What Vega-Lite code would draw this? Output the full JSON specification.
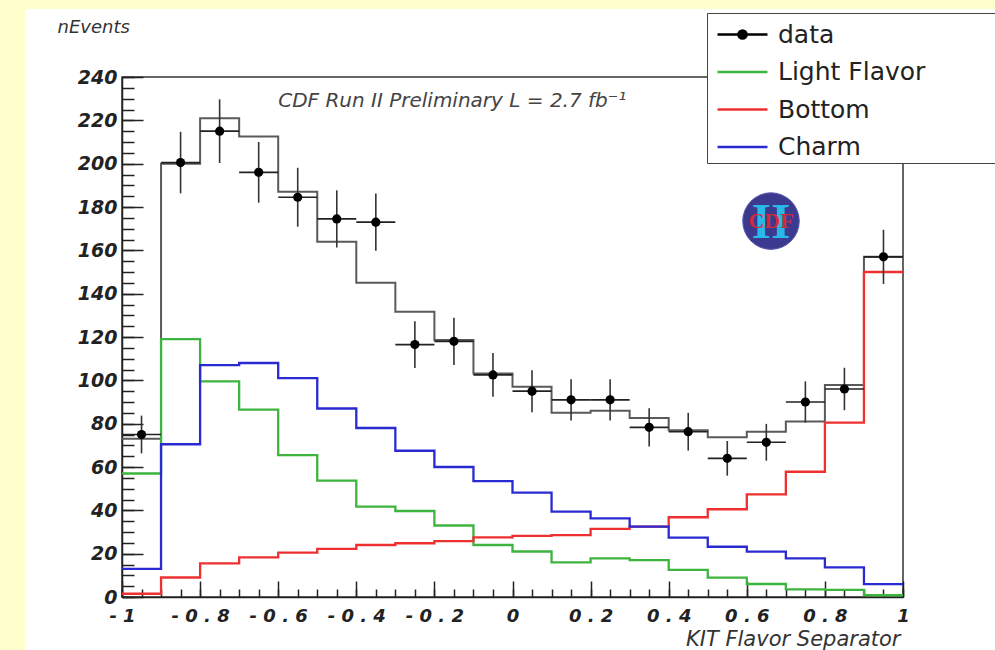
{
  "$schema": "https://vega.github.io/schema/vega-lite/v6.json",
  "autosize": {"type": "none"},
  "width": 781,
  "height": 520,
  "padding": {"left": 122, "top": 77, "right": 92, "bottom": 53},
  "background": "white",
  "config": {
    "font": "DejaVu Sans",
    "view": {"stroke": "#333", "strokeWidth": 1.5}
  },
  "resolve": {"axis": {"x": "independent", "y": "independent"}},
  "data": {
    "values": [
      {"lo": -1.0, "hi": -0.9, "x": -0.95, "data": 75, "dlo": 66.3, "dhi": 83.7, "Light Flavor": 57, "Bottom": 1.5, "Charm": 13, "tot": 73},
      {"lo": -0.9, "hi": -0.8, "x": -0.85, "data": 200.5, "dlo": 186.3, "dhi": 214.7, "Light Flavor": 119, "Bottom": 9, "Charm": 70.5, "tot": 200},
      {"lo": -0.8, "hi": -0.7, "x": -0.75, "data": 215, "dlo": 200.3, "dhi": 229.7, "Light Flavor": 99.5, "Bottom": 15.5, "Charm": 107, "tot": 221},
      {"lo": -0.7, "hi": -0.6, "x": -0.65, "data": 196, "dlo": 182, "dhi": 210, "Light Flavor": 86.5, "Bottom": 18.3, "Charm": 108, "tot": 212.5},
      {"lo": -0.6, "hi": -0.5, "x": -0.55, "data": 184.5, "dlo": 170.9, "dhi": 198.1, "Light Flavor": 65.5, "Bottom": 20.5, "Charm": 101, "tot": 187},
      {"lo": -0.5, "hi": -0.4, "x": -0.45, "data": 174.5, "dlo": 161.3, "dhi": 187.7, "Light Flavor": 53.7, "Bottom": 22.2, "Charm": 87, "tot": 164},
      {"lo": -0.4, "hi": -0.3, "x": -0.35, "data": 173, "dlo": 159.8, "dhi": 186.2, "Light Flavor": 41.7, "Bottom": 24, "Charm": 78, "tot": 145},
      {"lo": -0.3, "hi": -0.2, "x": -0.25, "data": 116.5, "dlo": 105.7, "dhi": 127.3, "Light Flavor": 39.7, "Bottom": 24.8, "Charm": 67.5, "tot": 131.7},
      {"lo": -0.2, "hi": -0.1, "x": -0.15, "data": 118, "dlo": 107.1, "dhi": 128.9, "Light Flavor": 33, "Bottom": 25.8, "Charm": 60, "tot": 118.6},
      {"lo": -0.1, "hi": 0.0, "x": -0.05, "data": 102.5, "dlo": 92.4, "dhi": 112.6, "Light Flavor": 24, "Bottom": 27.5, "Charm": 53.5, "tot": 103.2},
      {"lo": 0.0, "hi": 0.1, "x": 0.05, "data": 95, "dlo": 85.3, "dhi": 104.7, "Light Flavor": 21, "Bottom": 28.2, "Charm": 48.2, "tot": 97},
      {"lo": 0.1, "hi": 0.2, "x": 0.15, "data": 91, "dlo": 81.5, "dhi": 100.5, "Light Flavor": 16, "Bottom": 28.6, "Charm": 39.4, "tot": 85},
      {"lo": 0.2, "hi": 0.3, "x": 0.25, "data": 91, "dlo": 81.5, "dhi": 100.5, "Light Flavor": 17.8, "Bottom": 31.4, "Charm": 36.3, "tot": 86},
      {"lo": 0.3, "hi": 0.4, "x": 0.35, "data": 78.3, "dlo": 69.5, "dhi": 87.1, "Light Flavor": 17, "Bottom": 32.5, "Charm": 32.5, "tot": 82.6},
      {"lo": 0.4, "hi": 0.5, "x": 0.45, "data": 76.3, "dlo": 67.6, "dhi": 85, "Light Flavor": 12.5, "Bottom": 36.8, "Charm": 27.4, "tot": 77},
      {"lo": 0.5, "hi": 0.6, "x": 0.55, "data": 64, "dlo": 56, "dhi": 72, "Light Flavor": 8.9, "Bottom": 40.5, "Charm": 23.2, "tot": 73.7},
      {"lo": 0.6, "hi": 0.7, "x": 0.65, "data": 71.4, "dlo": 62.9, "dhi": 79.9, "Light Flavor": 6, "Bottom": 47.4, "Charm": 20.9, "tot": 76.3},
      {"lo": 0.7, "hi": 0.8, "x": 0.75, "data": 90, "dlo": 80.5, "dhi": 99.5, "Light Flavor": 3.5, "Bottom": 57.8, "Charm": 17.8, "tot": 81},
      {"lo": 0.8, "hi": 0.9, "x": 0.85, "data": 96, "dlo": 86.2, "dhi": 105.8, "Light Flavor": 3.3, "Bottom": 80.5, "Charm": 13.7, "tot": 97.8},
      {"lo": 0.9, "hi": 1.0, "x": 0.95, "data": 157, "dlo": 144.5, "dhi": 169.5, "Light Flavor": 0.8, "Bottom": 150, "Charm": 5.9, "tot": 157}
    ]
  },
  "layer": [
    {
      "data": {"values": [{}]},
      "mark": {"type": "rect", "color": "#ffffcc", "opacity": 1},
      "encoding": {
        "x": {"datum": -1.32, "type": "quantitative", "scale": {"domain": [-1, 1], "nice": false, "zero": false}, "axis": null},
        "x2": {"datum": -1.2484},
        "y": {"datum": -25, "type": "quantitative", "scale": {"domain": [0, 240], "nice": false}, "axis": null},
        "y2": {"datum": 276}
      }
    },
    {
      "data": {"values": [{}]},
      "mark": {"type": "rect", "color": "#ffffcc", "opacity": 1},
      "encoding": {
        "x": {"datum": -1.32, "type": "quantitative", "scale": {"domain": [-1, 1], "nice": false, "zero": false}, "axis": null},
        "x2": {"datum": 1.25},
        "y": {"datum": 271.4, "type": "quantitative", "scale": {"domain": [0, 240], "nice": false}, "axis": null},
        "y2": {"datum": 276}
      }
    },
    {
      "transform": [{"fold": ["lo", "hi"], "as": ["edge", "ex"]}],
      "mark": {"type": "line", "color": "#5a5a5a", "strokeWidth": 2},
      "encoding": {
        "x": {
          "field": "ex", "type": "quantitative",
          "scale": {"domain": [-1, 1], "nice": false, "zero": false},
          "axis": {
            "orient": "bottom",
            "values": [-1, -0.8, -0.6, -0.4, -0.2, 0, 0.2, 0.4, 0.6, 0.8, 1],
            "labelExpr": "join(split(replace(format(datum.value, '.1~f'), '\u2212', '-'), ''), ' ')",
            "labelOverlap": false,
            "labelFlush": false,
            "labelBound": false,
            "labelLimit": 0,
            "tickSize": -16,
            "labelPadding": 26,
            "tickColor": "#222", "tickWidth": 1.5,
            "domainColor": "#222", "domainWidth": 1.5,
            "grid": false,
            "labelFont": "DejaVu Sans", "labelFontSize": 18, "labelFontWeight": "bold", "labelFontStyle": "italic", "labelColor": "#222",
            "title": "KIT Flavor Separator",
            "titleFont": "DejaVu Sans", "titleFontSize": 21, "titleFontStyle": "italic", "titleFontWeight": "normal", "titleColor": "#333",
            "titleX": 778, "titleY": 42, "titleAlign": "right", "titleBaseline": "middle"
          }
        },
        "y": {
          "field": "tot", "type": "quantitative",
          "scale": {"domain": [0, 240], "nice": false},
          "axis": {
            "orient": "left",
            "values": [0, 20, 40, 60, 80, 100, 120, 140, 160, 180, 200, 220, 240],
            "format": "d",
            "labelOverlap": false,
            "labelFlush": false,
            "labelBound": false,
            "tickSize": -21,
            "labelPadding": 26,
            "tickColor": "#222", "tickWidth": 1.5,
            "domainColor": "#222", "domainWidth": 1.5,
            "grid": false,
            "labelFont": "DejaVu Sans", "labelFontSize": 19, "labelFontWeight": "bold", "labelFontStyle": "italic", "labelColor": "#222",
            "title": "nEvents",
            "titleAngle": 0,
            "titleFont": "DejaVu Sans", "titleFontSize": 18, "titleFontStyle": "italic", "titleFontWeight": "normal", "titleColor": "#333",
            "titleX": -65, "titleY": -50, "titleAlign": "left", "titleBaseline": "middle"
          }
        },
        "order": [{"field": "lo", "type": "quantitative"}, {"field": "edge", "sort": "descending"}]
      }
    },
    {
      "transform": [
        {"fold": ["Light Flavor", "Bottom", "Charm"], "as": ["key", "val"]},
        {"fold": ["lo", "hi"], "as": ["edge", "ex"]}
      ],
      "mark": {"type": "line", "strokeWidth": 2.3},
      "encoding": {
        "x": {
          "field": "ex", "type": "quantitative", "scale": {"domain": [-1, 1], "nice": false, "zero": false},
          "axis": {
            "orient": "bottom",
            "values": [-1, -0.95, -0.9, -0.85, -0.8, -0.75, -0.7, -0.65, -0.6, -0.55, -0.5, -0.45, -0.4, -0.35, -0.3, -0.25, -0.2, -0.15, -0.1, -0.05, 0, 0.05, 0.1, 0.15, 0.2, 0.25, 0.3, 0.35, 0.4, 0.45, 0.5, 0.55, 0.6, 0.65, 0.7, 0.75, 0.8, 0.85, 0.9, 0.95, 1],
            "labels": false, "domain": false, "grid": false, "title": null,
            "tickSize": -8, "tickColor": "#222", "tickWidth": 1.5
          }
        },
        "y": {
          "field": "val", "type": "quantitative", "scale": {"domain": [0, 240], "nice": false},
          "axis": {
            "orient": "left",
            "values": [0, 5, 10, 15, 20, 25, 30, 35, 40, 45, 50, 55, 60, 65, 70, 75, 80, 85, 90, 95, 100, 105, 110, 115, 120, 125, 130, 135, 140, 145, 150, 155, 160, 165, 170, 175, 180, 185, 190, 195, 200, 205, 210, 215, 220, 225, 230, 235, 240],
            "labels": false, "domain": false, "grid": false, "title": null,
            "tickSize": -12, "tickColor": "#222", "tickWidth": 1.5
          }
        },
        "color": {
          "field": "key", "type": "nominal",
          "scale": {"domain": ["data", "Light Flavor", "Bottom", "Charm"], "range": ["black", "#3db43d", "#ee3030", "#2a2ad2"]},
          "legend": {
            "orient": "none", "legendX": 585, "legendY": -64,
            "title": null,
            "fillColor": "white", "strokeColor": "#444",
            "padding": 3,
            "rowPadding": 5.5,
            "symbolType": "M-1.47,0H1.47",
            "symbolSize": 1156,
            "symbolStrokeWidth": 2.5,
            "symbolOffset": 14,
            "labelOffset": 17,
            "labelLimit": 400,
            "labelFont": "DejaVu Sans", "labelFontSize": 25, "labelColor": "#222",
            "labelExpr": "datum.label + '\u2800\u00a0\u2800\u2009\u2800'",
            "encode": {
              "symbols": {
                "update": {
                  "shape": {"signal": "datum.value === 'data' ? 'M-1.47,0H1.47M0.24,0A0.24,0.24 0 1,1 -0.24,0A0.24,0.24 0 1,1 0.24,0Z' : 'M-1.47,0H1.47'"},
                  "fill": {"signal": "datum.value === 'data' ? 'black' : 'transparent'"}
                }
              }
            }
          }
        },
        "detail": {"field": "key"},
        "order": [{"field": "lo", "type": "quantitative"}, {"field": "edge", "sort": "descending"}]
      }
    },
    {
      "mark": {"type": "rule", "color": "#333", "strokeWidth": 1.6},
      "encoding": {
        "x": {"field": "x", "type": "quantitative", "scale": {"domain": [-1, 1], "nice": false, "zero": false}, "axis": null},
        "y": {"field": "dlo", "type": "quantitative", "scale": {"domain": [0, 240], "nice": false}, "axis": null},
        "y2": {"field": "dhi"}
      }
    },
    {
      "mark": {"type": "rule", "color": "#222", "strokeWidth": 1.6},
      "encoding": {
        "x": {"field": "lo", "type": "quantitative", "scale": {"domain": [-1, 1], "nice": false, "zero": false}, "axis": null},
        "x2": {"field": "hi"},
        "y": {"field": "data", "type": "quantitative", "scale": {"domain": [0, 240], "nice": false}, "axis": null}
      }
    },
    {
      "mark": {"type": "point", "filled": true, "color": "black", "size": 85, "opacity": 1},
      "encoding": {
        "x": {"field": "x", "type": "quantitative", "scale": {"domain": [-1, 1], "nice": false, "zero": false}, "axis": null},
        "y": {"field": "data", "type": "quantitative", "scale": {"domain": [0, 240], "nice": false}, "axis": null}
      }
    },
    {
      "data": {"values": [{}]},
      "mark": {"type": "text", "text": "CDF Run II Preliminary L = 2.7 fb⁻¹", "align": "left", "baseline": "middle", "font": "DejaVu Sans", "fontSize": 20, "fontStyle": "italic", "color": "#444"},
      "encoding": {
        "x": {"datum": -0.6, "type": "quantitative", "scale": {"domain": [-1, 1], "nice": false, "zero": false}, "axis": null},
        "y": {"datum": 229, "type": "quantitative", "scale": {"domain": [0, 240], "nice": false}, "axis": null}
      }
    },
    {
      "data": {"values": [{}]},
      "mark": {"type": "point", "shape": "circle", "filled": true, "color": "#3c3a8e", "size": 3200, "opacity": 1, "stroke": "#5c5cae", "strokeWidth": 1},
      "encoding": {
        "x": {"datum": 0.662, "type": "quantitative", "scale": {"domain": [-1, 1], "nice": false, "zero": false}, "axis": null},
        "y": {"datum": 173.5, "type": "quantitative", "scale": {"domain": [0, 240], "nice": false}, "axis": null}
      }
    },
    {
      "data": {"values": [{}]},
      "mark": {"type": "text", "text": "II", "align": "center", "baseline": "middle", "font": "Liberation Serif", "fontSize": 50, "fontWeight": "bold", "color": "#2ab8ea", "dy": 2},
      "encoding": {
        "x": {"datum": 0.662, "type": "quantitative", "scale": {"domain": [-1, 1], "nice": false, "zero": false}, "axis": null},
        "y": {"datum": 173.5, "type": "quantitative", "scale": {"domain": [0, 240], "nice": false}, "axis": null}
      }
    },
    {
      "data": {"values": [{}]},
      "mark": {"type": "text", "text": "CDF", "align": "center", "baseline": "middle", "font": "Liberation Serif", "fontSize": 22, "fontWeight": "bold", "color": "#d02a3a"},
      "encoding": {
        "x": {"datum": 0.662, "type": "quantitative", "scale": {"domain": [-1, 1], "nice": false, "zero": false}, "axis": null},
        "y": {"datum": 173.5, "type": "quantitative", "scale": {"domain": [0, 240], "nice": false}, "axis": null}
      }
    }
  ]
}
